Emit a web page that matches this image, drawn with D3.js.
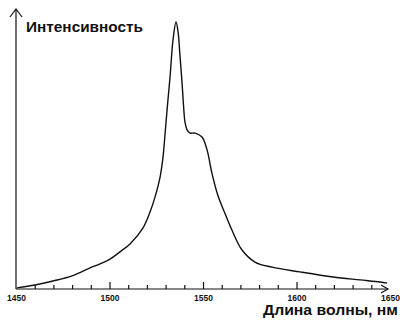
<!DOCTYPE html>
<html><head><meta charset="utf-8">
<script src="https://cdn.jsdelivr.net/npm/d3@7"></script>
<style>body{margin:0;background:#fff}svg{display:block}text{font-family:"Liberation Sans",Arial,sans-serif;font-weight:bold;fill:#111}</style>
</head><body>
<svg id="c" width="400" height="320"></svg>
<script>
const wavelength = [1450.3,1459.9,1469.5,1479.7,1489.3,1494.7,1500.0,1505.3,1510.7,1517.6,1521.4,1524.1,1526.7,1528.3,1529.4,1530.5,1532.1,1533.7,1535.3,1536.4,1537.4,1538.5,1539.3,1540.1,1541.2,1542.8,1545.5,1549.2,1551.9,1554.5,1557.8,1561.5,1565.2,1570.6,1577.5,1586.6,1601.6,1619.3,1633.7,1644.4,1648.2];
const intensity = [0.004,0.015,0.030,0.049,0.079,0.094,0.112,0.139,0.169,0.228,0.288,0.345,0.416,0.491,0.577,0.670,0.794,0.933,1.0,0.963,0.876,0.775,0.689,0.625,0.596,0.584,0.584,0.569,0.521,0.434,0.348,0.283,0.221,0.146,0.101,0.082,0.064,0.045,0.034,0.026,0.022];
const tickValues = d3.range(1460,1650,10);
const majorTicks = [1500,1550,1600];
const tickLabels = [1450,1500,1550,1600,1650];
const yLabel = "Интенсивность";
const xLabel = "Длина волны, нм";

const svg = d3.select("#c");
const x = d3.scaleLinear().domain([1450,1650]).range([16.5,390.5]);
const y = d3.scaleLinear().domain([0,1]).range([289,22]);
const ink = "#111";

// axes
svg.append("line").attr("x1",16).attr("x2",16).attr("y1",289).attr("y2",9).attr("stroke",ink).attr("stroke-width",1.2);
svg.append("path").attr("d","M10,17L16,9L22,17").attr("fill","none").attr("stroke",ink).attr("stroke-width",1.2);
svg.append("line").attr("x1",16).attr("x2",388).attr("y1",289).attr("y2",289).attr("stroke",ink).attr("stroke-width",1.2);
svg.append("path").attr("d","M381,285L388,289L381,293").attr("fill","none").attr("stroke",ink).attr("stroke-width",1.2);

svg.selectAll(".tk").data(tickValues).join("line")
  .attr("x1",d=>x(d)).attr("x2",d=>x(d))
  .attr("y1",289).attr("y2",d=>majorTicks.includes(d)?282:285)
  .attr("stroke",ink).attr("stroke-width",1.2);

svg.selectAll(".tl").data(tickLabels).join("text")
  .attr("x",d=>x(d)).attr("y",301).attr("text-anchor","middle")
  .attr("font-size",8.5).text(d=>d);

// curve
const line = d3.line().x((d,i)=>x(wavelength[i])).y((d,i)=>y(intensity[i])).curve(d3.curveCatmullRom.alpha(0.5));
svg.append("path").datum(intensity).attr("d",line).attr("fill","none").attr("stroke",ink).attr("stroke-width",1.4);

svg.append("text").attr("x",26).attr("y",32).attr("font-size",14).attr("textLength",117).attr("lengthAdjust","spacingAndGlyphs").text(yLabel);
svg.append("text").attr("x",263).attr("y",315).attr("font-size",14).attr("textLength",135).attr("lengthAdjust","spacingAndGlyphs").text(xLabel);
</script>
</body></html>
